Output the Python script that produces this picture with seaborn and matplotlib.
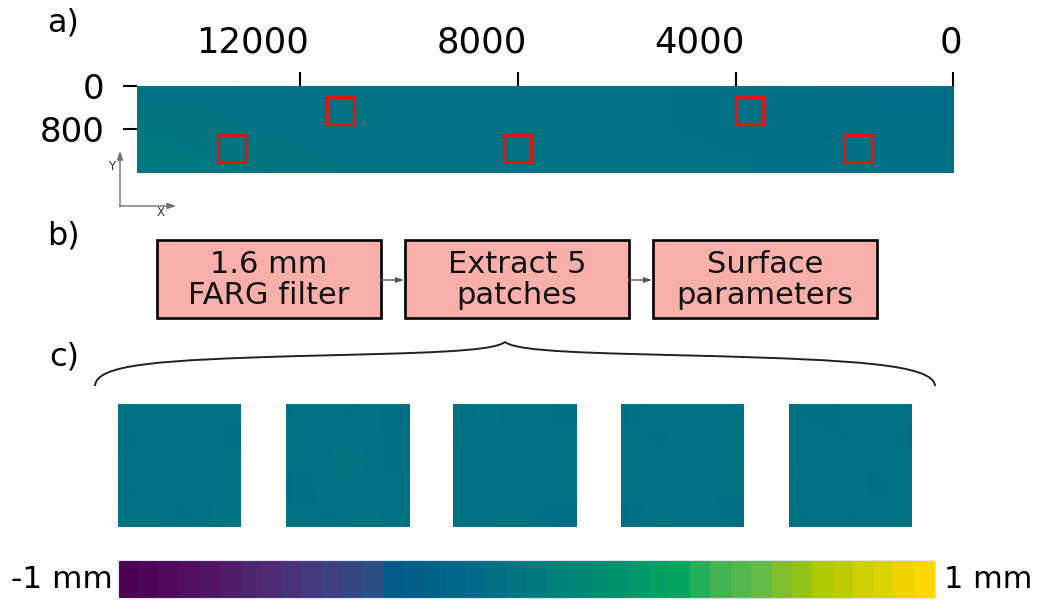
import numpy as np
import matplotlib
matplotlib.use("Agg")
import matplotlib.pyplot as plt
from matplotlib.colors import LinearSegmentedColormap, ListedColormap, Normalize
from matplotlib.patches import Rectangle, PathPatch
from matplotlib.path import Path
from matplotlib.transforms import ScaledTranslation
import matplotlib.cm as cm
import seaborn as sns

# ---- data -------------------------------------------------------------
# surface height (mm) over the full scan, coarse grid: 3 rows (y) x 10 columns (x, 15000 -> 0)
strip_values = [
    [-0.04, -0.05, -0.06, -0.05, -0.06, -0.07, -0.07, -0.08, -0.09, -0.10],
    [-0.02, -0.04, -0.05, -0.05, -0.05, -0.06, -0.07, -0.08, -0.09, -0.09],
    [-0.01, -0.03, -0.04, -0.04, -0.05, -0.05, -0.06, -0.07, -0.08, -0.08],
]
strip_x_extent = 15000
strip_y_extent = 1600

# patch centres (scan coordinates) and patch size
patch_x = [13250, 11250, 8000, 3750, 1750]
patch_y = [1150, 450, 1150, 450, 1150]
patch_size = 500

x_ticks = [12000, 8000, 4000, 0]
y_ticks = [0, 800]

# surface heights (mm) inside each extracted patch, 5x5 grid
patch_values = [
    [[-0.05, -0.09, -0.03, -0.08, -0.06], [-0.10, -0.02, -0.07, -0.04, -0.09],
     [-0.04, -0.08, -0.01, -0.09, -0.05], [-0.09, -0.05, -0.08, -0.03, -0.07],
     [-0.06, -0.03, -0.09, -0.06, -0.02]],
    [[-0.08, -0.04, -0.09, -0.05, -0.10], [-0.03, -0.09, -0.02, -0.08, -0.06],
     [-0.07, -0.05, -0.00, -0.06, -0.09], [-0.10, -0.06, -0.04, -0.09, -0.03],
     [-0.05, -0.08, -0.07, -0.02, -0.08]],
    [[-0.06, -0.02, -0.08, -0.05, -0.09], [-0.09, -0.06, -0.03, -0.10, -0.04],
     [-0.03, -0.09, -0.06, -0.02, -0.08], [-0.08, -0.04, -0.09, -0.06, -0.05],
     [-0.05, -0.07, -0.03, -0.08, -0.10]],
    [[-0.09, -0.05, -0.07, -0.03, -0.08], [-0.04, -0.10, -0.05, -0.08, -0.02],
     [-0.08, -0.03, -0.09, -0.01, -0.07], [-0.05, -0.08, -0.02, -0.09, -0.06],
     [-0.10, -0.04, -0.07, -0.05, -0.09]],
    [[-0.07, -0.10, -0.04, -0.08, -0.05], [-0.03, -0.06, -0.09, -0.04, -0.10],
     [-0.09, -0.04, -0.06, -0.08, -0.03], [-0.05, -0.08, -0.03, -0.10, -0.06],
     [-0.08, -0.05, -0.09, -0.04, -0.07]],
]

steps = ["1.6 mm\nFARG filter", "Extract 5\npatches", "Surface\nparameters"]
panel_labels = ["a)", "b)", "c)"]
cbar_labels = ["-1 mm", "1 mm"]
vmin, vmax = -1.0, 1.0

# ---- style ------------------------------------------------------------
sns.set_style("white")
plt.rcParams["font.family"] = ["DejaVu Sans"]
plt.rcParams["text.color"] = "black"
plt.rcParams["xtick.color"] = "black"
plt.rcParams["ytick.color"] = "black"

anchors = [
    (0.00, (75, 0, 80)), (0.10, (82, 22, 100)), (0.20, (76, 50, 122)),
    (0.31, (45, 80, 132)), (0.32, (0, 90, 140)), (0.45, (0, 110, 135)),
    (0.50, (0, 122, 128)), (0.60, (0, 140, 112)), (0.71, (0, 172, 90)),
    (0.72, (50, 176, 90)), (0.80, (105, 186, 70)), (0.87, (170, 200, 0)),
    (1.00, (255, 215, 0)),
]
smooth = LinearSegmentedColormap.from_list(
    "surface", [(p, tuple(c / 255 for c in rgb)) for p, rgb in anchors])
stepped = ListedColormap(smooth(np.linspace(0, 1, 40)))
norm = Normalize(vmin, vmax)

W, H = 1037, 600
fig = plt.figure(figsize=(W / 100, H / 100), dpi=100)


def px_axes(x0, y0, x1, y1, **kw):
    return fig.add_axes([x0 / W, 1 - y1 / H, (x1 - x0) / W, (y1 - y0) / H], **kw)


# overlay canvas in pixel units for labels, flowchart and brace
canvas = fig.add_axes([0, 0, 1, 1], zorder=0)
canvas.set_xlim(0, W)
canvas.set_ylim(H, 0)
canvas.axis("off")
canvas.patch.set_alpha(0)

# ---- a) full scan ----------------------------------------------------
ax = px_axes(136.7, 85.7, 953.3, 172.7, zorder=1)
ax.imshow(np.array(strip_values), cmap=smooth, norm=norm, aspect="auto",
          interpolation="bilinear",
          extent=(strip_x_extent, 0, strip_y_extent, 0))
ax.set_xlim(strip_x_extent, 0)
ax.set_ylim(strip_y_extent, 0)
for cx, cy in zip(patch_x, patch_y):
    ax.add_patch(Rectangle((cx - patch_size / 2, cy - patch_size / 2),
                           patch_size, patch_size, fill=False,
                           edgecolor="#e8120c", linewidth=2.3))
ax.xaxis.tick_top()
ax.set_xticks(x_ticks)
ax.set_xticklabels([str(t) for t in x_ticks])
ax.set_yticks(y_ticks)
ax.set_yticklabels([str(t) for t in y_ticks])
ax.tick_params(axis="both", direction="out", length=10, width=1.5, color="black")
ax.tick_params(axis="x", pad=9, top=True, bottom=False, labelsize=25.5)
ax.tick_params(axis="y", pad=13, left=True, labelsize=24.5)
# top labels sit right-aligned just past their ticks
shift = ScaledTranslation(9 / 100, 0, fig.dpi_scale_trans)
for lab in ax.get_xticklabels():
    lab.set_horizontalalignment("right")
    lab.set_transform(lab.get_transform() + shift)
for s in ax.spines.values():
    s.set_visible(False)

# axis orientation glyph
arrow_kw = dict(arrowstyle="-|>,head_length=0.5,head_width=0.18",
                color="#707070", lw=1.0, shrinkA=0, shrinkB=0)
canvas.annotate("", xy=(120, 151), xytext=(120, 206.5), arrowprops=arrow_kw)
canvas.annotate("", xy=(176, 206), xytext=(119.5, 206), arrowprops=arrow_kw)
canvas.text(112, 166, "Y", fontsize=8.5, ha="center", va="center", color="#333333")
canvas.text(161, 213, "X", fontsize=8.5, ha="center", va="center", color="#333333")

# ---- b) processing chain --------------------------------------------
box_left = [157, 405, 653]
box_w, box_top, box_bot = 224, 240, 318
for i, (bx, txt) in enumerate(zip(box_left, steps)):
    canvas.add_patch(Rectangle((bx, box_top), box_w, box_bot - box_top,
                               facecolor="#f9b0aa", edgecolor="black", lw=1.9))
    canvas.text(bx + box_w / 2, (box_top + box_bot) / 2 + 1, txt, fontsize=22,
                ha="center", va="center", linespacing=1.1, color="#111111")
    if i < len(steps) - 1:
        canvas.annotate("", xy=(box_left[i + 1] - 1, 280), xytext=(bx + box_w, 280),
                        arrowprops=dict(arrowstyle="-|>,head_length=0.45,head_width=0.15",
                                        color="#555555", lw=1.0, shrinkA=0, shrinkB=0))

# ---- c) brace and patches -------------------------------------------
verts = [(95, 386), (96, 364), (160, 360), (300, 356),
         (420, 353), (492, 352), (505, 342),
         (518, 352), (590, 353), (710, 356),
         (850, 360), (934, 364), (935, 386)]
codes = [Path.MOVETO] + [Path.CURVE4] * 12
canvas.add_patch(PathPatch(Path(verts, codes), fill=False, edgecolor="#222222", lw=1.4))

patch_left = [118, 286, 453, 621, 789]
patch_w = 123
for px0, vals in zip(patch_left, patch_values):
    pax = px_axes(px0, 404, px0 + patch_w, 527, zorder=1)
    pax.imshow(np.array(vals), cmap=smooth, norm=norm, aspect="auto",
               interpolation="bicubic")
    pax.set_xticks([])
    pax.set_yticks([])
    for s in pax.spines.values():
        s.set_visible(False)

# ---- colour scale ----------------------------------------------------
cax = px_axes(118, 560, 935, 598, zorder=1)
cb = fig.colorbar(cm.ScalarMappable(norm=norm, cmap=stepped), cax=cax,
                  orientation="horizontal")
cb.set_ticks([])
cb.outline.set_edgecolor("#dde3ea")
cb.outline.set_linewidth(0.8)
canvas.text(113, 579, cbar_labels[0], fontsize=22.5, ha="right", va="center")
canvas.text(944, 579, cbar_labels[1], fontsize=22, ha="left", va="center")

# panel labels
for (lx, ly), lab in zip([(47, 23), (47, 236), (49, 357)], panel_labels):
    canvas.text(lx, ly, lab, fontsize=23, ha="left", va="center")

fig.savefig("out.png", dpi=100)
